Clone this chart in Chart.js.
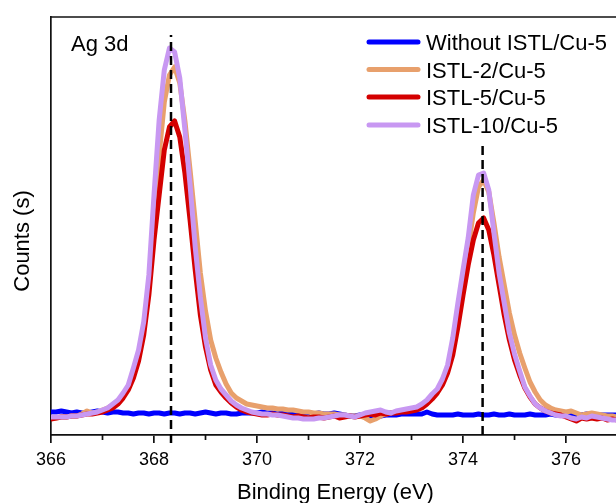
<!DOCTYPE html>
<html><head><meta charset="utf-8">
<script src="https://cdn.jsdelivr.net/npm/chart.js@4.4.1/dist/chart.umd.min.js"></script>
<style>html,body{margin:0;padding:0;background:#fff;overflow:hidden}#wrap{width:616px;height:503px}</style>
</head><body><div id="wrap"><canvas id="c" width="616" height="503"></canvas></div>
<script>
// Binding energy grid (eV)
const energy = [
366.0,366.1,366.2,366.3,366.4,366.5,366.6,366.7,366.8,366.9,
367.0,367.1,367.2,367.3,367.4,367.5,367.6,367.7,367.8,367.9,
368.0,368.1,368.2,368.3,368.4,368.5,368.6,368.7,368.8,368.9,
369.0,369.1,369.2,369.3,369.4,369.5,369.6,369.7,369.8,369.9,
370.0,370.1,370.2,370.3,370.4,370.5,370.6,370.7,370.8,370.9,
371.0,371.1,371.2,371.3,371.4,371.5,371.6,371.7,371.8,371.9,
372.0,372.1,372.2,372.3,372.4,372.5,372.6,372.7,372.8,372.9,
373.0,373.1,373.2,373.3,373.4,373.5,373.6,373.7,373.8,373.9,
374.0,374.1,374.2,374.3,374.4,374.5,374.6,374.7,374.8,374.9,
375.0,375.1,375.2,375.3,375.4,375.5,375.6,375.7,375.8,375.9,
376.0,376.1,376.2,376.3,376.4,376.5,376.6,376.7,376.8,376.9,
377.0];

// Counts (arbitrary units)
const withoutISTL = [
23,23,24,23,22,23,22,22,23,24,
23,22,23,23,22,22,21,22,22,21,
22,22,21,22,22,21,22,22,21,22,
23,22,21,22,22,21,21,22,22,22,
22,23,22,22,21,22,22,22,21,22,
22,21,22,21,21,22,21,20,19,19,
20,19,19,20,19,20,20,20,21,21,
21,21,21,23,21,20,20,20,20,21,
20,20,20,21,20,20,21,20,20,21,
20,20,20,21,20,20,20,21,20,20,
20,20,20,20,21,20,20,20,20,20,
20];
const istl2 = [
17,17,18,18,19,19,21,24,22,23,
25,27,30,34,40,48,62,80,106,150,
212,280,333,360,368,352,314,265,214,162,
124,95,77,63,51,42,37,34,31,30,
29,28,27,27,26,26,25,25,24,23,
23,22,22,21,21,21,20,20,19,19,
19,17,14,16,19,21,22,23,24,25,
26,27,29,32,37,43,53,66,90,122,
154,187,222,248,255,243,212,178,150,122,
100,82,67,53,43,35,30,27,25,24,
23,24,22,20,21,22,21,20,19,19,
18];
const istl5 = [
16,17,18,18,19,19,20,21,21,22,
23,25,27,31,37,45,57,74,100,140,
195,240,285,308,314,298,262,215,165,120,
88,65,50,43,37,32,28,25,23,22,
21,20,20,21,20,20,19,18,19,18,
17,18,18,17,18,19,17,18,19,18,
19,20,21,20,22,21,22,22,23,23,
24,25,27,31,36,42,50,62,80,108,
140,170,195,212,217,205,180,150,120,95,
75,60,47,38,31,27,24,22,21,20,
18,16,14,17,16,17,16,17,15,16,
15];
const istl10 = [
18,18,18,18,19,19,20,21,22,23,
25,27,31,35,42,50,67,85,113,160,
240,315,365,387,383,357,305,250,188,138,
97,70,55,46,40,34,30,27,25,23,
22,21,21,20,20,19,18,17,17,16,
16,16,17,17,18,19,20,20,19,18,
20,22,23,24,25,23,22,24,25,26,
27,28,31,35,41,46,56,70,97,132,
165,197,240,260,262,245,202,162,132,102,
81,64,48,39,31,27,24,22,20,19,
19,17,16,18,17,19,18,17,16,15,
15];

const seriesNames = ['Without ISTL/Cu-5','ISTL-2/Cu-5','ISTL-5/Cu-5','ISTL-10/Cu-5'];
const seriesColors = ['#0000ff','#e8a06c','#d40000','#c898f2'];
const seriesValues = [withoutISTL, istl2, istl5, istl10];
const seriesOrder = [4, 3, 2, 1];

const xTickValues = [366,367,368,369,370,371,372,373,374,375,376];
const xTickLabels = ['366','','368','','370','','372','','374','','376'];
const xMin = 366, xMax = 376.97, yMin = 0, yMax = 418;

const peakEnergies = [368.33, 374.38];
const peakLineTops = [400, 292];
const peakLineBottoms = [-8, 0];

const xTitle = 'Binding Energy (eV)';
const yTitle = 'Counts (s)';
const panelLabel = 'Ag 3d';

const FONT = 'Arial, "Liberation Sans", Helvetica, sans-serif';
const AXIS = '#111';

const datasets = [];
peakEnergies.forEach((e, i) => {
  datasets.push({
    label: 'peak' + i,
    data: [{x: e, y: peakLineBottoms[i]}, {x: e, y: peakLineTops[i]}],
    borderColor: '#000', borderWidth: 2.5, borderDash: [9, 5],
    pointRadius: 0, order: 0, clip: {left: 0, right: 0, top: 0, bottom: 10}
  });
});
seriesValues.forEach((vals, s) => {
  datasets.push({
    label: seriesNames[s],
    data: energy.map((e, i) => ({x: e, y: vals[i]})),
    borderColor: seriesColors[s], borderWidth: 5, pointRadius: 0,
    tension: 0, borderJoinStyle: 'round', borderCapStyle: 'round',
    order: seriesOrder[s]
  });
});

const decor = {
  id: 'decor',
  afterDraw(chart) {
    const {ctx, chartArea: a, scales: {x}} = chart;
    ctx.save();
    ctx.strokeStyle = AXIS; ctx.lineWidth = 1.7;
    ctx.beginPath(); ctx.moveTo(a.left - 0.85, a.top); ctx.lineTo(a.right, a.top); ctx.stroke();
    ctx.beginPath();
    xTickValues.forEach((v, i) => {
      if (xTickLabels[i] === '') { const px = x.getPixelForValue(v); ctx.moveTo(px, a.bottom); ctx.lineTo(px, a.bottom + 5); }
    });
    ctx.stroke();
    ctx.fillStyle = '#000';
    ctx.font = '22px ' + FONT;
    ctx.textBaseline = 'alphabetic';
    ctx.textAlign = 'center';
    ctx.fillText(xTitle, (a.left + a.right) / 2 + 2, 499);
    ctx.save(); ctx.translate(29, 241); ctx.rotate(-Math.PI / 2); ctx.fillText(yTitle, 0, 0); ctx.restore();
    ctx.textAlign = 'left';
    ctx.fillText(panelLabel, 71, 51);
    const rows = [42, 69.5, 97, 125];
    seriesNames.forEach((n, i) => {
      ctx.strokeStyle = seriesColors[i]; ctx.lineWidth = 5; ctx.lineCap = 'round';
      ctx.beginPath(); ctx.moveTo(369, rows[i]); ctx.lineTo(418, rows[i]); ctx.stroke();
      ctx.fillText(n, 426, rows[i] + 8);
    });
    ctx.restore();
  }
};

new Chart(document.getElementById('c'), {
  type: 'line',
  data: {datasets},
  options: {
    responsive: false, animation: false, devicePixelRatio: 1,
    layout: {padding: {top: 17, left: 0, right: 0, bottom: 0}},
    plugins: {legend: {display: false}, tooltip: {enabled: false}},
    scales: {
      x: {
        type: 'linear', min: xMin, max: xMax,
        afterBuildTicks(scale) { scale.ticks = xTickValues.map(v => ({value: v})); },
        afterFit(scale) { scale.height = 68; },
        ticks: {autoSkip: false, maxRotation: 0, color: '#000', padding: 6,
          font: {size: 18, family: FONT}, callback: (v, i) => xTickLabels[i]},
        grid: {display: true, drawOnChartArea: false, drawTicks: true, tickLength: 8, lineWidth: 1.7,
          tickColor: (c) => (c.tick && xTickLabels[xTickValues.indexOf(c.tick.value)] === '') ? 'rgba(0,0,0,0)' : AXIS},
        border: {display: true, color: AXIS, width: 1.7}
      },
      y: {
        type: 'linear', min: yMin, max: yMax,
        afterFit(scale) { scale.width = 51; },
        ticks: {display: false},
        grid: {display: true, drawOnChartArea: false, drawTicks: false},
        border: {display: true, color: AXIS, width: 1.7}
      }
    }
  },
  plugins: [decor]
});
</script></body></html>
